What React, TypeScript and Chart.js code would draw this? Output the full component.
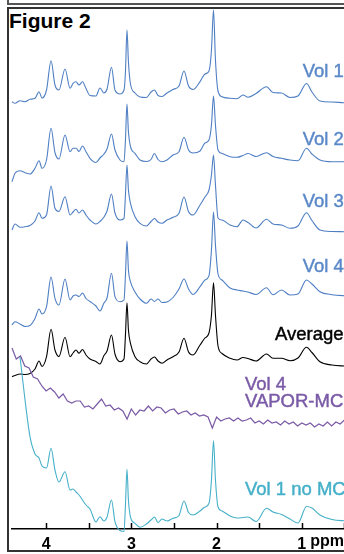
import React, { useEffect, useRef } from "react";
import { Chart, registerables } from "chart.js";

Chart.register(...registerables);

// Chemical shift grid (ppm) shared by the stacked spectra
const ppmGrid = [4.400, 4.365, 4.306, 4.247, 4.189, 4.130, 4.083, 4.048, 3.995, 3.942, 3.896, 3.849, 3.778, 3.719, 3.684, 3.649, 3.614, 3.573, 3.532, 3.485, 3.415, 3.368, 3.321, 3.285, 3.233, 3.192, 3.133, 3.086, 3.069, 3.051, 3.034, 3.010, 2.957, 2.898, 2.822, 2.769, 2.728, 2.687, 2.640, 2.582, 2.511, 2.441, 2.382, 2.329, 2.276, 2.194, 2.136, 2.089, 2.060, 2.036, 2.013, 1.983, 1.936, 1.842, 1.760, 1.690, 1.631, 1.537, 1.414, 1.338, 1.238, 1.139, 1.045, 0.945, 0.881, 0.787, 0.646, 0.505, 0.317, 0.200];

// Stacked intensities (a.u.)
const vol1 = [427.3, 425.7, 428.3, 427.3, 429.7, 430.7, 437.3, 431, 439, 468.3, 444, 439, 460, 440.7, 445.7, 447.3, 444, 447.3, 440.5, 433.5, 433, 441, 436, 440, 461.7, 439, 435, 439, 457, 499, 467, 445, 436, 432, 431.5, 437, 439, 433.5, 432.5, 436, 439.5, 443, 458, 443, 439.5, 447.3, 455, 458, 479, 519, 469, 438, 432.3, 430.7, 430.3, 434, 431.7, 435.5, 442.3, 436.5, 436, 431.5, 433, 445.5, 437, 428, 427, 426.3, 426, 426];
const vol2 = [347.3, 355.7, 358.3, 356.3, 355, 360.7, 368.3, 360.7, 369, 400.7, 376.5, 370, 394, 377.3, 380.7, 380.7, 377.5, 383, 377.3, 370.7, 366.5, 371, 375, 380, 395, 379, 369, 367.3, 389, 425, 397, 382.3, 375.7, 369, 367.5, 369.5, 375.5, 369.5, 367.3, 369, 374, 377.3, 391.7, 379, 376, 378, 386, 389, 404, 433, 404, 379, 375.5, 372.3, 371.7, 373.5, 375.5, 372.5, 376.3, 372.5, 370.7, 369, 368.3, 380.7, 375, 369, 367.3, 367.3, 367, 367];
const vol3 = [299, 305, 301.7, 302.3, 303.5, 308, 316.3, 310.7, 314, 343, 320.7, 317.5, 332.3, 314, 317, 319.7, 316, 319, 314, 309, 305, 307.5, 312, 318, 335, 316, 309, 310.7, 334, 364, 339, 325.7, 312.3, 305.7, 303, 307.5, 310.5, 307, 305.7, 309, 311.7, 315.7, 332, 317.3, 314, 324, 332, 339, 354, 374, 344, 311, 309, 304, 302.3, 309, 306.5, 301, 309.7, 305, 304, 300.7, 303, 316.3, 308.5, 299, 297.5, 297.3, 297, 297];
const vol4 = [204, 207.3, 205, 202.5, 203.5, 210.5, 220, 215, 222.3, 252, 230.7, 224, 250, 229, 233, 234, 232.5, 236, 230.5, 227.5, 223, 218, 226, 231, 255.7, 232.3, 227.3, 229, 254, 288, 259, 247.3, 237, 230, 225.7, 230, 227.5, 230, 226.5, 227, 231.5, 240, 250, 240, 234.5, 242.3, 249, 253.3, 279, 317, 284, 255, 249, 241, 239, 238, 237, 234.5, 241.3, 234.2, 239, 234, 235, 249, 245, 237.3, 234.3, 233.3, 233, 233];
const average = [152.3, 153.5, 155, 154.5, 155.5, 160, 168, 162.5, 172.3, 199.7, 179, 172.5, 191.7, 172.3, 176, 179, 175.7, 179.5, 174, 170, 167.5, 165, 173.5, 178, 194, 175, 167.3, 170, 194, 226.3, 199, 185.7, 172.3, 167.3, 165, 170, 172, 168, 165.7, 169, 172.3, 177, 190.7, 177, 174, 184, 191, 196, 214, 246.3, 214, 183, 175.5, 170.7, 169, 171.5, 170.5, 168, 175, 170.7, 170.7, 168.3, 171, 181.7, 176.5, 167.3, 164, 163, 162.5, 162.5];
const vol1NoMC = [null, null, 172, 129, 92.3, 75, 71, 63, 61, 80.7, 59, 47, 57.3, 39, 40, 37, 34, 29, 24, 20, 7, 12.3, 8, 12, 29, 7.3, -1.5, -2.5, 24, 59.7, 29, 12, 5.7, 1.7, 5, 9, 12, 6.5, 10, 8, 10.7, 13.5, 28, 16.5, 14, 18, 22, 25.7, 49, 88.3, 49, 22, 18, 13, 11, 11.5, 12, 7.5, 20.7, 17, 14.5, 10, 6, 22.5, 21, 14, 9.5, 8.3, 8, 8];

// VAPOR-MC spectrum, sampled on its own grid (ppm)
const vaporPpm = [4.40, 4.35, 4.30, 4.25, 4.20, 4.15, 4.10, 4.05, 4.00,
  3.95, 3.90, 3.85, 3.80, 3.75, 3.70, 3.65, 3.60, 3.55, 3.50, 3.45, 3.40, 3.35, 3.30, 3.25, 3.20, 3.15, 3.10, 3.05, 3.00,
  2.95, 2.90, 2.85, 2.80, 2.75, 2.70, 2.65, 2.60, 2.55, 2.50, 2.45, 2.40, 2.35, 2.30, 2.25, 2.20, 2.15, 2.10, 2.05, 2.00,
  1.95, 1.90, 1.85, 1.80, 1.75, 1.70, 1.65, 1.60, 1.55, 1.50, 1.45, 1.40, 1.35, 1.30, 1.25, 1.20, 1.15, 1.10, 1.05, 1.00,
  0.95, 0.90, 0.85, 0.80, 0.75, 0.70, 0.65, 0.60, 0.55, 0.50, 0.45, 0.40, 0.35, 0.30, 0.25, 0.20];
const vol4Vapor = [181, 170, 173, 163, 161, 152, 150, 143, 138,
  141, 137, 131, 135, 128, 126, 128, 128, 122, 123, 120, 125, 130, 123, 124, 119, 121, 118, 110, 120,
  114, 119, 118, 123, 118, 122, 121, 116, 119, 120, 115, 117, 118, 114, 116, 113, 114, 112, 101, 112,
  108, 110, 111, 108, 111, 108, 109, 111, 106, 108, 105, 109, 106, 107, 104, 108, 105, 107, 103, 106,
  104, 106, 102, 105, 103, 107, 103, 107, 105, 109, 106, 108, 106, 109, 107, 108];

// Axis ticks
const tickValues = [4, 3, 2, 1];

const BLUE = "#4f7fc3";
const BLUE_TEXT = "#5a88c8";
const PURPLE = "#7a5aa6";
const TEAL = "#46b0c9";

const labels = [
  { text: "Vol 1", ppm: 0.99, level: 457, color: BLUE_TEXT },
  { text: "Vol 2", ppm: 0.99, level: 389, color: BLUE_TEXT },
  { text: "Vol 3", ppm: 0.99, level: 327, color: BLUE_TEXT },
  { text: "Vol 4", ppm: 0.99, level: 262, color: BLUE_TEXT },
  { text: "Average", ppm: 1.315, level: 194, color: "#000" },
  { text: "Vol 4", ppm: 1.667, level: 144, color: PURPLE },
  { text: "VAPOR-MC", ppm: 1.667, level: 127, color: PURPLE },
  { text: "Vol 1 no MC", ppm: 1.667, level: 39, color: TEAL },
];

const FONT = "'Liberation Sans', Arial, Helvetica, sans-serif";

const decorPlugin = {
  id: "decor",
  afterDraw(chart: any) {
    const { ctx, chartArea } = chart;
    const xs = chart.scales.x;
    const ys = chart.scales.y;
    ctx.save();
    // tick marks pointing up from the axis
    ctx.strokeStyle = "#000";
    ctx.lineWidth = 1.5;
    for (const t of xs.ticks) {
      const px = Math.round(xs.getPixelForValue(t.value)) + 0.5;
      ctx.beginPath();
      ctx.moveTo(px, chartArea.bottom);
      ctx.lineTo(px, chartArea.bottom - 6);
      ctx.stroke();
    }
    // unit after the last labelled tick
    ctx.font = `bold 16px ${FONT}`;
    ctx.fillStyle = "#000";
    ctx.textBaseline = "middle";
    ctx.textAlign = "left";
    const lastTick = tickValues[tickValues.length - 1];
    const px1 = xs.getPixelForValue(lastTick);
    const w1 = ctx.measureText(String(lastTick)).width;
    ctx.fillText("ppm", px1 + w1 / 2 + 4, chartArea.bottom + 13);
    // series labels
    ctx.font = `18.5px ${FONT}`;
    ctx.lineWidth = 0.45;
    for (const l of labels) {
      ctx.fillStyle = l.color;
      ctx.strokeStyle = l.color;
      const x = xs.getPixelForValue(l.ppm);
      const y = ys.getPixelForValue(l.level);
      ctx.fillText(l.text, x, y);
      ctx.strokeText(l.text, x, y);
    }
    ctx.restore();
  },
};

const series = [
  { name: "Vol 1 no MC", x: ppmGrid, y: vol1NoMC, color: TEAL, smooth: true },
  { name: "Vol 4 VAPOR-MC", x: vaporPpm, y: vol4Vapor, color: PURPLE, smooth: false },
  { name: "Average", x: ppmGrid, y: average, color: "#000", smooth: true },
  { name: "Vol 4", x: ppmGrid, y: vol4, color: BLUE, smooth: true },
  { name: "Vol 3", x: ppmGrid, y: vol3, color: BLUE, smooth: true },
  { name: "Vol 2", x: ppmGrid, y: vol2, color: BLUE, smooth: true },
  { name: "Vol 1", x: ppmGrid, y: vol1, color: BLUE, smooth: true },
];

export default function App() {
  const ref = useRef<HTMLCanvasElement | null>(null);
  useEffect(() => {
    if (!ref.current) return;
    const chart = new Chart(ref.current, {
      type: "line",
      data: {
        datasets: series.map((s) => ({
          label: s.name,
          data: s.x.map((x, i) => ({ x, y: s.y[i] })),
          borderColor: s.color,
          borderWidth: s.smooth ? 1.1 : 1.2,
          pointRadius: 0,
          fill: false,
          spanGaps: false,
          cubicInterpolationMode: s.smooth ? "monotone" : "default",
          tension: 0,
          clip: 6,
        })) as any,
      },
      options: {
        animation: false,
        responsive: false,
        devicePixelRatio: 1,
        layout: { padding: { left: 12, right: 0, top: 0, bottom: 0 } },
        plugins: { legend: { display: false }, tooltip: { enabled: false } },
        scales: {
          x: {
            type: "linear",
            reverse: true,
            min: 0.2,
            max: 4.4,
            grid: { display: false },
            border: { display: true, color: "#000", width: 1.5 },
            afterFit: (scale: any) => {
              scale.height = 25;
            },
            ticks: {
              stepSize: 0.5,
              includeBounds: false,
              autoSkip: false,
              maxRotation: 0,
              padding: -2,
              color: "#000",
              font: { family: FONT, size: 16, weight: "bold" },
              callback: (v: any) => (tickValues.includes(Number(v)) ? String(v) : ""),
            },
          },
          y: { display: false, min: 0, max: 529 },
        },
      } as any,
      plugins: [decorPlugin],
    });
    return () => chart.destroy();
  }, []);

  return (
    <div style={{ position: "fixed", left: 0, top: 0, width: 344, height: 554, overflow: "hidden", background: "#fff" }}>
      <div style={{ position: "absolute", left: 7, top: -20, width: 420, height: 25, boxSizing: "border-box", border: "2px solid #555" }} />
      <div style={{ position: "absolute", left: 7, top: 7, width: 420, height: 545, boxSizing: "border-box", border: "2px solid #333" }} />
      <div style={{ position: "absolute", left: 9, top: 9, font: `bold 21px ${FONT}`, color: "#000", lineHeight: "24px" }}>Figure 2</div>
      <canvas ref={ref} width={370} height={554} style={{ position: "absolute", left: 0, top: 0, display: "block" }} />
    </div>
  );
}
